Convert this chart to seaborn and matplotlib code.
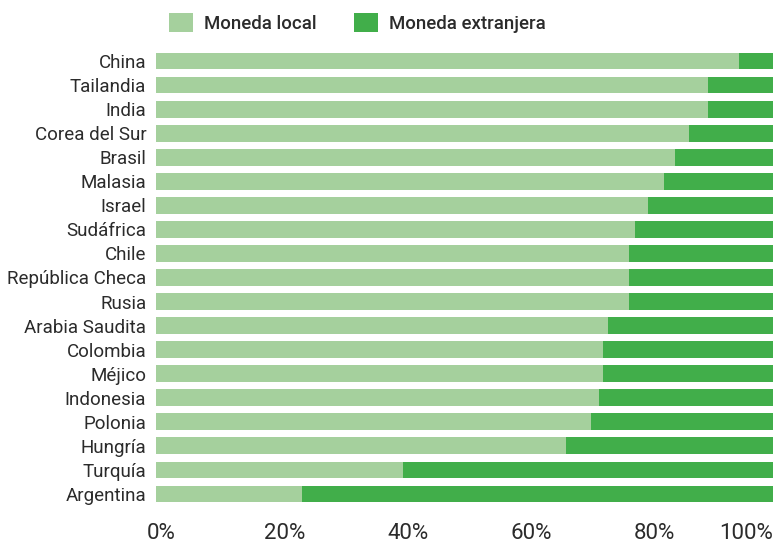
import matplotlib
matplotlib.use("Agg")
import matplotlib.pyplot as plt
import matplotlib.transforms as mtransforms
import seaborn as sns
import pandas as pd
from matplotlib.patches import Patch

paises = ["China", "Tailandia", "India", "Corea del Sur", "Brasil", "Malasia", "Israel",
          "Sudáfrica", "Chile", "República Checa", "Rusia", "Arabia Saudita", "Colombia",
          "Méjico", "Indonesia", "Polonia", "Hungría", "Turquía", "Argentina"]
moneda_local = [94.5, 89.5, 89.5, 86.4, 84.1, 82.3, 79.7, 77.6, 76.7, 76.7, 76.7, 73.3,
                72.4, 72.4, 71.8, 70.5, 66.5, 40.0, 23.7]
moneda_extranjera = [100 - v for v in moneda_local]
x_ticks = [0, 20, 40, 60, 80, 100]
x_labels = ["0%", "20%", "40%", "60%", "80%", "100%"]
series = ["Moneda local", "Moneda extranjera"]

c_local = "#A5D09D"
c_ext = "#41AE4A"
txt = "#2b2b2b"

sns.set_theme(style="white")
plt.rcParams["font.family"] = ["Roboto", "DejaVu Sans"]

df = pd.DataFrame({"pais": paises, "local": moneda_local,
                   "total": [a + b for a, b in zip(moneda_local, moneda_extranjera)]})

fig = plt.figure(figsize=(7.74, 5.43), dpi=100)
ax = fig.add_axes([156 / 774, 1 - 506 / 543, 617 / 774, (506 - 49) / 543])

sns.barplot(data=df, x="total", y="pais", orient="h", color=c_ext, width=0.7,
            saturation=1, linewidth=0, ax=ax)
sns.barplot(data=df, x="local", y="pais", orient="h", color=c_local, width=0.7,
            saturation=1, linewidth=0, ax=ax)

ax.set_xlim(0, 100)
ax.set_ylim(len(paises) - 0.5, -0.5)
ax.set_xlabel("")
ax.set_ylabel("")
sns.despine(ax=ax, left=True, bottom=True)
ax.tick_params(axis="both", length=0)
ax.tick_params(axis="y", pad=7, labelsize=13.5, labelcolor=txt)
ax.tick_params(axis="x", pad=12, labelsize=16, labelcolor=txt)
ax.set_xticks(x_ticks)
ax.set_xticklabels(x_labels)
shift = mtransforms.ScaledTranslation(5 / 100, 0, fig.dpi_scale_trans)
for lab in ax.get_xticklabels():
    if lab.get_text() == "100%":
        lab.set_horizontalalignment("right")
    else:
        lab.set_transform(lab.get_transform() + shift)

handles = [Patch(facecolor=c_local, edgecolor="none"),
           Patch(facecolor=c_ext, edgecolor="none")]
leg = fig.legend(handles, series, loc="center left", bbox_to_anchor=(152 / 774, 1 - 23 / 543),
                 ncol=2, frameon=False, handlelength=1.3, handleheight=1.15,
                 handletextpad=0.6, columnspacing=2.0,
                 prop={"size": 13.4, "weight": "medium"})
for t in leg.get_texts():
    t.set_color(txt)

fig.savefig("out.png", dpi=100)
